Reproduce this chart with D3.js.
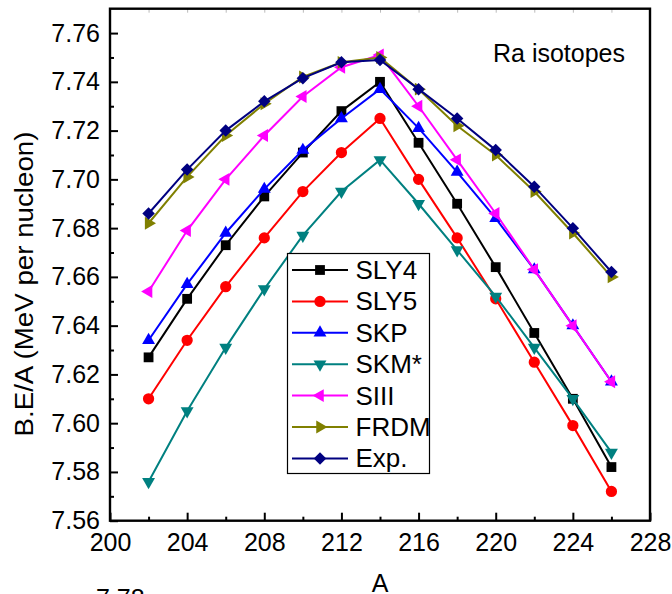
<!DOCTYPE html>
<html>
<head>
<meta charset="utf-8">
<script src="https://cdn.jsdelivr.net/npm/d3@7/dist/d3.min.js"></script>
<style>
  html, body { margin: 0; padding: 0; background: #fff; }
  svg { display: block; font-family: "Liberation Sans", Arial, sans-serif; }
</style>
</head>
<body>
<svg id="chart" width="672" height="594"></svg>
<script>
// ---------- data ----------
const massNumbers = [202, 204, 206, 208, 210, 212, 214, 216, 218, 220, 222, 224, 226];
const sly4 = [7.627, 7.651, 7.673, 7.693, 7.711, 7.728, 7.740, 7.715, 7.690, 7.664, 7.637, 7.610, 7.582];
const sly5 = [7.610, 7.634, 7.656, 7.676, 7.695, 7.711, 7.725, 7.700, 7.676, 7.651, 7.625, 7.599, 7.572];
const skp  = [7.634, 7.657, 7.678, 7.696, 7.712, 7.725, 7.737, 7.721, 7.703, 7.684, 7.663, 7.640, 7.617];
const skm  = [7.576, 7.605, 7.631, 7.655, 7.677, 7.695, 7.708, 7.690, 7.671, 7.652, 7.631, 7.610, 7.588];
const s3   = [7.654, 7.679, 7.700, 7.718, 7.734, 7.746, 7.751, 7.730, 7.708, 7.686, 7.663, 7.640, 7.617];
const frdm = [7.682, 7.701, 7.718, 7.731, 7.742, 7.748, 7.750, 7.737, 7.722, 7.710, 7.695, 7.678, 7.660];
const expt = [7.686, 7.704, 7.720, 7.732, 7.7415, 7.748, 7.749, 7.737, 7.725, 7.712, 7.697, 7.680, 7.662];
const seriesNames = ["SLY4", "SLY5", "SKP", "SKM*", "SIII", "FRDM", "Exp."];
const xTicks = [200, 204, 208, 212, 216, 220, 224, 228];
const yTicks = [7.56, 7.58, 7.60, 7.62, 7.64, 7.66, 7.68, 7.70, 7.72, 7.74, 7.76];

const seriesValues = [sly4, sly5, skp, skm, s3, frdm, expt];
const colors = ["#000000", "#ff0000", "#0000ff", "#008080", "#ff00ff", "#808000", "#000080"];
const markers = ["square", "circle", "up", "down", "left", "right", "diamond"];

// ---------- layout ----------
const svg = d3.select("#chart");
const L = 110, R = 650, T = 8.7, B = 520.7;
const FS = 25;
const x = d3.scaleLinear().domain([200, 228]).range([L, R]);
const y = d3.scaleLinear().domain([7.56, 7.77]).range([B, T]);

function markerPath(kind) {
  switch (kind) {
    case "square": return d3.symbol(d3.symbolSquare, 96)();
    case "circle": return d3.symbol(d3.symbolCircle, 100)();
    case "diamond": return d3.symbol(d3.symbolSquare, 78)();
    default: return d3.symbol(d3.symbolTriangle, 72)();
  }
}
function markerRot(kind) {
  return { square: 0, circle: 0, diamond: 45, up: 0, down: 180, left: -90, right: 90 }[kind];
}

// ---------- axes ----------
const minorX = d3.range(202, 228, 4);
const minorY = d3.range(7.57, 7.765, 0.02);

const gx = svg.append("g").attr("transform", `translate(0,${B})`);
gx.call(d3.axisBottom(x).tickValues(xTicks).tickSize(-8).tickPadding(13).tickFormat(d3.format("d")));
const gxm = svg.append("g").attr("transform", `translate(0,${B})`);
gxm.call(d3.axisBottom(x).tickValues(minorX).tickSize(-4).tickFormat(""));

const gy = svg.append("g").attr("transform", `translate(${L},0)`);
gy.call(d3.axisLeft(y).tickValues(yTicks).tickSize(-8).tickPadding(10).tickFormat(d3.format(".2f")));
const gym = svg.append("g").attr("transform", `translate(${L},0)`);
gym.call(d3.axisLeft(y).tickValues(minorY).tickSize(-4).tickFormat(""));

[gx, gxm, gy, gym].forEach(g => {
  g.select(".domain").remove();
  g.selectAll(".tick line").attr("stroke", "#000").attr("stroke-width", 2);
  g.selectAll(".tick text").attr("font-size", FS).attr("fill", "#000")
    .attr("font-family", '"Liberation Sans", Arial, sans-serif');
});

// faint ticks on top
const gt = svg.append("g").attr("transform", `translate(0,${T})`);
gt.call(d3.axisTop(x).tickValues(d3.range(202, 228, 2)).tickSize(-4).tickFormat(""));
gt.select(".domain").remove();
gt.selectAll(".tick line").attr("stroke", "#bbb").attr("stroke-width", 1);

// frame
svg.append("rect").attr("x", L).attr("y", T).attr("width", R - L).attr("height", B - T)
  .attr("fill", "none").attr("stroke", "#000").attr("stroke-width", 2.4);

// ---------- series ----------
const line = d3.line().x((d, i) => x(massNumbers[i])).y(d => y(d));
seriesValues.forEach((vals, si) => {
  const g = svg.append("g");
  g.append("path").datum(vals).attr("d", line)
    .attr("fill", "none").attr("stroke", colors[si]).attr("stroke-width", 2);
  g.selectAll("path.m").data(vals).enter().append("path").attr("class", "m")
    .attr("d", markerPath(markers[si]))
    .attr("transform", (d, i) => `translate(${x(massNumbers[i])},${y(d)}) rotate(${markerRot(markers[si])})`)
    .attr("fill", colors[si]);
});

// ---------- legend ----------
const lg = svg.append("g");
lg.append("rect").attr("x", 287.5).attr("y", 253.5).attr("width", 142).attr("height", 220)
  .attr("fill", "#fff").attr("stroke", "#000").attr("stroke-width", 1.2);
seriesNames.forEach((name, si) => {
  const yy = 270 + si * 31.4;
  lg.append("line").attr("x1", 292).attr("x2", 348).attr("y1", yy).attr("y2", yy)
    .attr("stroke", colors[si]).attr("stroke-width", 2);
  lg.append("path").attr("d", markerPath(markers[si]))
    .attr("transform", `translate(320,${yy}) rotate(${markerRot(markers[si])})`)
    .attr("fill", colors[si]);
  lg.append("text").attr("x", 355.5).attr("y", yy + 9).attr("font-size", FS + 1).attr("fill", "#000").text(name);
});

// ---------- labels ----------
svg.append("text").attr("x", 493).attr("y", 62).attr("font-size", FS).attr("fill", "#000")
  .attr("textLength", 132).attr("lengthAdjust", "spacingAndGlyphs").text("Ra isotopes");
svg.append("text").attr("x", 380).attr("y", 592).attr("text-anchor", "middle")
  .attr("font-size", FS).attr("fill", "#000").text("A");
svg.append("text").attr("transform", "translate(33,284) rotate(-90)").attr("text-anchor", "middle")
  .attr("font-size", FS).attr("fill", "#000")
  .attr("textLength", 305).attr("lengthAdjust", "spacingAndGlyphs").text("B.E/A (MeV per nucleon)");
svg.append("text").attr("x", 96).attr("y", 607).attr("font-size", FS).attr("fill", "#000").text("7.78");
</script>
</body>
</html>
